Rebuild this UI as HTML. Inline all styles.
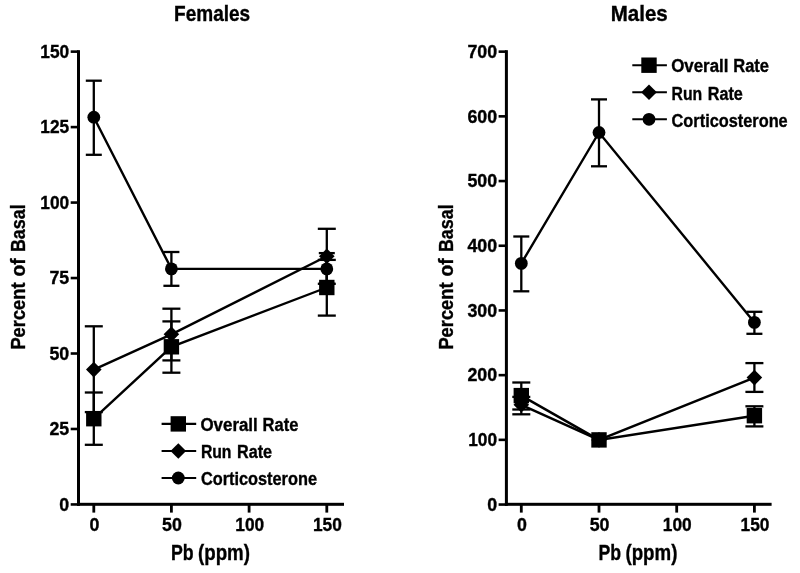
<!DOCTYPE html>
<html><head><meta charset="utf-8"><style>
html,body{margin:0;padding:0;background:#fff;}
body{width:800px;height:573px;overflow:hidden;}
svg{display:block;will-change:transform;}
text{font-family:"Liberation Sans",sans-serif;font-weight:bold;fill:#000;stroke:#000;stroke-width:0.35px;}
</style></head><body>
<svg width="800" height="573" viewBox="0 0 800 573">
<rect width="800" height="573" fill="#fff"/>
<g fill="#000" stroke="none">
<rect x="77.00" y="50.20" width="3.0" height="455.60"/><rect x="77.00" y="502.80" width="267.00" height="3.0"/><rect x="70.70" y="503.15" width="7.8" height="2.6"/><text x="69.20" y="510.70" text-anchor="end" font-size="18" textLength="9.90" lengthAdjust="spacingAndGlyphs">0</text><rect x="70.70" y="427.68" width="7.8" height="2.6"/><text x="69.20" y="435.23" text-anchor="end" font-size="18" textLength="19.80" lengthAdjust="spacingAndGlyphs">25</text><rect x="70.70" y="352.21" width="7.8" height="2.6"/><text x="69.20" y="359.76" text-anchor="end" font-size="18" textLength="19.80" lengthAdjust="spacingAndGlyphs">50</text><rect x="70.70" y="276.74" width="7.8" height="2.6"/><text x="69.20" y="284.29" text-anchor="end" font-size="18" textLength="19.80" lengthAdjust="spacingAndGlyphs">75</text><rect x="70.70" y="201.27" width="7.8" height="2.6"/><text x="69.20" y="208.82" text-anchor="end" font-size="18" textLength="28.86" lengthAdjust="spacingAndGlyphs">100</text><rect x="70.70" y="125.80" width="7.8" height="2.6"/><text x="69.20" y="133.35" text-anchor="end" font-size="18" textLength="28.86" lengthAdjust="spacingAndGlyphs">125</text><rect x="70.70" y="50.33" width="7.8" height="2.6"/><text x="69.20" y="57.88" text-anchor="end" font-size="18" textLength="28.86" lengthAdjust="spacingAndGlyphs">150</text><rect x="92.40" y="504.30" width="2.8" height="8.3"/><text x="94.40" y="531.0" text-anchor="middle" font-size="18" textLength="9.90" lengthAdjust="spacingAndGlyphs">0</text><rect x="170.00" y="504.30" width="2.8" height="8.3"/><text x="172.00" y="531.0" text-anchor="middle" font-size="18" textLength="19.80" lengthAdjust="spacingAndGlyphs">50</text><rect x="247.70" y="504.30" width="2.8" height="8.3"/><text x="249.70" y="531.0" text-anchor="middle" font-size="18" textLength="28.86" lengthAdjust="spacingAndGlyphs">100</text><rect x="325.40" y="504.30" width="2.8" height="8.3"/><text x="327.40" y="531.0" text-anchor="middle" font-size="18" textLength="28.86" lengthAdjust="spacingAndGlyphs">150</text><text x="171.06" y="560.20" font-size="21.2" textLength="22.61" lengthAdjust="spacingAndGlyphs">Pb</text><text x="198.01" y="560.20" font-size="21.2" textLength="51.97" lengthAdjust="spacingAndGlyphs">(ppm)</text><text transform="translate(25.20,349.57) rotate(-90)" x="0" y="0" font-size="20.3" textLength="67.05" lengthAdjust="spacingAndGlyphs">Percent</text><text transform="translate(25.20,276.40) rotate(-90)" x="0" y="0" font-size="20.3" textLength="18.11" lengthAdjust="spacingAndGlyphs">of</text><text transform="translate(25.20,252.05) rotate(-90)" x="0" y="0" font-size="20.3" textLength="47.65" lengthAdjust="spacingAndGlyphs">Basal</text><polyline stroke="#000" points="93.80,117.20 171.40,268.90 326.80,268.90" fill="none" stroke-width="2.4" stroke-linejoin="miter"/><polyline stroke="#000" points="93.80,369.60 171.40,334.30 326.80,256.30" fill="none" stroke-width="2.4" stroke-linejoin="miter"/><polyline stroke="#000" points="93.80,418.70 171.40,346.80 326.80,287.50" fill="none" stroke-width="2.4" stroke-linejoin="miter"/><line stroke="#000" x1="93.80" y1="80.70" x2="93.80" y2="154.80" stroke-width="2.3" stroke-linecap="butt"/><line stroke="#000" x1="85.80" y1="80.70" x2="101.80" y2="80.70" stroke-width="2.3" stroke-linecap="butt"/><line stroke="#000" x1="85.80" y1="154.80" x2="101.80" y2="154.80" stroke-width="2.3" stroke-linecap="butt"/><line stroke="#000" x1="171.40" y1="252.00" x2="171.40" y2="285.80" stroke-width="2.3" stroke-linecap="butt"/><line stroke="#000" x1="163.40" y1="252.00" x2="179.40" y2="252.00" stroke-width="2.3" stroke-linecap="butt"/><line stroke="#000" x1="163.40" y1="285.80" x2="179.40" y2="285.80" stroke-width="2.3" stroke-linecap="butt"/><line stroke="#000" x1="326.80" y1="253.10" x2="326.80" y2="283.80" stroke-width="2.3" stroke-linecap="butt"/><line stroke="#000" x1="318.80" y1="253.10" x2="334.80" y2="253.10" stroke-width="2.3" stroke-linecap="butt"/><line stroke="#000" x1="318.80" y1="283.80" x2="334.80" y2="283.80" stroke-width="2.3" stroke-linecap="butt"/><line stroke="#000" x1="93.80" y1="326.30" x2="93.80" y2="412.10" stroke-width="2.3" stroke-linecap="butt"/><line stroke="#000" x1="84.80" y1="326.30" x2="102.80" y2="326.30" stroke-width="2.3" stroke-linecap="butt"/><line stroke="#000" x1="84.80" y1="412.10" x2="102.80" y2="412.10" stroke-width="2.3" stroke-linecap="butt"/><line stroke="#000" x1="171.40" y1="308.70" x2="171.40" y2="360.40" stroke-width="2.3" stroke-linecap="butt"/><line stroke="#000" x1="162.40" y1="308.70" x2="180.40" y2="308.70" stroke-width="2.3" stroke-linecap="butt"/><line stroke="#000" x1="162.40" y1="360.40" x2="180.40" y2="360.40" stroke-width="2.3" stroke-linecap="butt"/><line stroke="#000" x1="326.80" y1="228.80" x2="326.80" y2="283.80" stroke-width="2.3" stroke-linecap="butt"/><line stroke="#000" x1="317.80" y1="228.80" x2="335.80" y2="228.80" stroke-width="2.3" stroke-linecap="butt"/><line stroke="#000" x1="317.80" y1="283.80" x2="335.80" y2="283.80" stroke-width="2.3" stroke-linecap="butt"/><line stroke="#000" x1="93.80" y1="392.50" x2="93.80" y2="444.80" stroke-width="2.3" stroke-linecap="butt"/><line stroke="#000" x1="84.80" y1="392.50" x2="102.80" y2="392.50" stroke-width="2.3" stroke-linecap="butt"/><line stroke="#000" x1="84.80" y1="444.80" x2="102.80" y2="444.80" stroke-width="2.3" stroke-linecap="butt"/><line stroke="#000" x1="171.40" y1="321.40" x2="171.40" y2="372.70" stroke-width="2.3" stroke-linecap="butt"/><line stroke="#000" x1="162.40" y1="321.40" x2="180.40" y2="321.40" stroke-width="2.3" stroke-linecap="butt"/><line stroke="#000" x1="162.40" y1="372.70" x2="180.40" y2="372.70" stroke-width="2.3" stroke-linecap="butt"/><line stroke="#000" x1="326.80" y1="259.90" x2="326.80" y2="315.60" stroke-width="2.3" stroke-linecap="butt"/><line stroke="#000" x1="317.80" y1="259.90" x2="335.80" y2="259.90" stroke-width="2.3" stroke-linecap="butt"/><line stroke="#000" x1="317.80" y1="315.60" x2="335.80" y2="315.60" stroke-width="2.3" stroke-linecap="butt"/><circle cx="93.80" cy="117.20" r="6.4"/><circle cx="171.40" cy="268.90" r="6.4"/><circle cx="326.80" cy="268.90" r="6.4"/><polygon points="93.80,361.80 101.60,369.60 93.80,377.40 86.00,369.60"/><polygon points="171.40,326.50 179.20,334.30 171.40,342.10 163.60,334.30"/><polygon points="326.80,248.50 334.60,256.30 326.80,264.10 319.00,256.30"/><rect x="86.10" y="411.00" width="15.4" height="15.4"/><rect x="163.70" y="339.10" width="15.4" height="15.4"/><rect x="319.10" y="279.80" width="15.4" height="15.4"/><g transform="translate(0,0)"><line stroke="#000" x1="161.60" y1="423.90" x2="196.20" y2="423.90" stroke-width="2.1" stroke-linecap="butt"/><rect x="170.60" y="416.20" width="15.4" height="15.4"/><line stroke="#000" x1="161.60" y1="451.00" x2="196.20" y2="451.00" stroke-width="2.1" stroke-linecap="butt"/><polygon points="178.30,443.20 186.10,451.00 178.30,458.80 170.50,451.00"/><line stroke="#000" x1="161.60" y1="478.00" x2="196.20" y2="478.00" stroke-width="2.1" stroke-linecap="butt"/><circle cx="178.30" cy="478.00" r="6.4"/><text x="200.46" y="430.50" font-size="17.5" textLength="57.29" lengthAdjust="spacingAndGlyphs">Overall</text><text x="262.54" y="430.50" font-size="17.5" textLength="35.78" lengthAdjust="spacingAndGlyphs">Rate</text><text x="200.89" y="458.30" font-size="17.5" textLength="30.63" lengthAdjust="spacingAndGlyphs">Run</text><text x="237.07" y="458.30" font-size="17.5" textLength="35.04" lengthAdjust="spacingAndGlyphs">Rate</text><text x="200.88" y="485.40" font-size="17.5" textLength="116.13" lengthAdjust="spacingAndGlyphs">Corticosterone</text></g><text x="174.08" y="21.00" font-size="21.5" textLength="76.11" lengthAdjust="spacingAndGlyphs">Females</text>
<rect x="504.90" y="50.20" width="3.0" height="455.60"/><rect x="504.90" y="502.80" width="266.70" height="3.0"/><rect x="498.60" y="503.25" width="7.8" height="2.6"/><text x="497.10" y="510.80" text-anchor="end" font-size="18" textLength="9.90" lengthAdjust="spacingAndGlyphs">0</text><rect x="498.60" y="438.55" width="7.8" height="2.6"/><text x="497.10" y="446.10" text-anchor="end" font-size="18" textLength="28.86" lengthAdjust="spacingAndGlyphs">100</text><rect x="498.60" y="373.85" width="7.8" height="2.6"/><text x="497.10" y="381.40" text-anchor="end" font-size="18" textLength="29.70" lengthAdjust="spacingAndGlyphs">200</text><rect x="498.60" y="309.15" width="7.8" height="2.6"/><text x="497.10" y="316.70" text-anchor="end" font-size="18" textLength="29.70" lengthAdjust="spacingAndGlyphs">300</text><rect x="498.60" y="244.45" width="7.8" height="2.6"/><text x="497.10" y="252.00" text-anchor="end" font-size="18" textLength="29.70" lengthAdjust="spacingAndGlyphs">400</text><rect x="498.60" y="179.75" width="7.8" height="2.6"/><text x="497.10" y="187.30" text-anchor="end" font-size="18" textLength="29.70" lengthAdjust="spacingAndGlyphs">500</text><rect x="498.60" y="115.05" width="7.8" height="2.6"/><text x="497.10" y="122.60" text-anchor="end" font-size="18" textLength="29.70" lengthAdjust="spacingAndGlyphs">600</text><rect x="498.60" y="50.35" width="7.8" height="2.6"/><text x="497.10" y="57.90" text-anchor="end" font-size="18" textLength="29.70" lengthAdjust="spacingAndGlyphs">700</text><rect x="519.90" y="504.30" width="2.8" height="8.3"/><text x="521.90" y="531.0" text-anchor="middle" font-size="18" textLength="9.90" lengthAdjust="spacingAndGlyphs">0</text><rect x="597.60" y="504.30" width="2.8" height="8.3"/><text x="599.60" y="531.0" text-anchor="middle" font-size="18" textLength="19.80" lengthAdjust="spacingAndGlyphs">50</text><rect x="675.30" y="504.30" width="2.8" height="8.3"/><text x="677.30" y="531.0" text-anchor="middle" font-size="18" textLength="28.86" lengthAdjust="spacingAndGlyphs">100</text><rect x="753.00" y="504.30" width="2.8" height="8.3"/><text x="755.00" y="531.0" text-anchor="middle" font-size="18" textLength="28.86" lengthAdjust="spacingAndGlyphs">150</text><text x="598.46" y="560.20" font-size="21.2" textLength="22.61" lengthAdjust="spacingAndGlyphs">Pb</text><text x="625.41" y="560.20" font-size="21.2" textLength="51.97" lengthAdjust="spacingAndGlyphs">(ppm)</text><text transform="translate(452.60,349.57) rotate(-90)" x="0" y="0" font-size="20.3" textLength="67.05" lengthAdjust="spacingAndGlyphs">Percent</text><text transform="translate(452.60,276.40) rotate(-90)" x="0" y="0" font-size="20.3" textLength="18.11" lengthAdjust="spacingAndGlyphs">of</text><text transform="translate(452.60,252.05) rotate(-90)" x="0" y="0" font-size="20.3" textLength="47.65" lengthAdjust="spacingAndGlyphs">Basal</text><polyline stroke="#000" points="521.30,263.40 599.00,132.50 754.40,322.40" fill="none" stroke-width="2.4" stroke-linejoin="miter"/><polyline stroke="#000" points="521.30,404.80 599.00,439.90 754.40,377.60" fill="none" stroke-width="2.4" stroke-linejoin="miter"/><polyline stroke="#000" points="521.30,395.60 599.00,439.90 754.40,415.70" fill="none" stroke-width="2.4" stroke-linejoin="miter"/><line stroke="#000" x1="521.30" y1="236.50" x2="521.30" y2="291.30" stroke-width="2.3" stroke-linecap="butt"/><line stroke="#000" x1="513.30" y1="236.50" x2="529.30" y2="236.50" stroke-width="2.3" stroke-linecap="butt"/><line stroke="#000" x1="513.30" y1="291.30" x2="529.30" y2="291.30" stroke-width="2.3" stroke-linecap="butt"/><line stroke="#000" x1="599.00" y1="99.40" x2="599.00" y2="166.30" stroke-width="2.3" stroke-linecap="butt"/><line stroke="#000" x1="591.00" y1="99.40" x2="607.00" y2="99.40" stroke-width="2.3" stroke-linecap="butt"/><line stroke="#000" x1="591.00" y1="166.30" x2="607.00" y2="166.30" stroke-width="2.3" stroke-linecap="butt"/><line stroke="#000" x1="754.40" y1="311.80" x2="754.40" y2="333.80" stroke-width="2.3" stroke-linecap="butt"/><line stroke="#000" x1="746.40" y1="311.80" x2="762.40" y2="311.80" stroke-width="2.3" stroke-linecap="butt"/><line stroke="#000" x1="746.40" y1="333.80" x2="762.40" y2="333.80" stroke-width="2.3" stroke-linecap="butt"/><line stroke="#000" x1="521.30" y1="396.90" x2="521.30" y2="414.30" stroke-width="2.3" stroke-linecap="butt"/><line stroke="#000" x1="512.30" y1="396.90" x2="530.30" y2="396.90" stroke-width="2.3" stroke-linecap="butt"/><line stroke="#000" x1="512.30" y1="414.30" x2="530.30" y2="414.30" stroke-width="2.3" stroke-linecap="butt"/><line stroke="#000" x1="754.40" y1="363.10" x2="754.40" y2="391.90" stroke-width="2.3" stroke-linecap="butt"/><line stroke="#000" x1="745.40" y1="363.10" x2="763.40" y2="363.10" stroke-width="2.3" stroke-linecap="butt"/><line stroke="#000" x1="745.40" y1="391.90" x2="763.40" y2="391.90" stroke-width="2.3" stroke-linecap="butt"/><line stroke="#000" x1="521.30" y1="382.50" x2="521.30" y2="409.50" stroke-width="2.3" stroke-linecap="butt"/><line stroke="#000" x1="512.30" y1="382.50" x2="530.30" y2="382.50" stroke-width="2.3" stroke-linecap="butt"/><line stroke="#000" x1="512.30" y1="409.50" x2="530.30" y2="409.50" stroke-width="2.3" stroke-linecap="butt"/><line stroke="#000" x1="754.40" y1="406.30" x2="754.40" y2="426.40" stroke-width="2.3" stroke-linecap="butt"/><line stroke="#000" x1="745.40" y1="406.30" x2="763.40" y2="406.30" stroke-width="2.3" stroke-linecap="butt"/><line stroke="#000" x1="745.40" y1="426.40" x2="763.40" y2="426.40" stroke-width="2.3" stroke-linecap="butt"/><circle cx="521.30" cy="263.40" r="6.4"/><circle cx="599.00" cy="132.50" r="6.4"/><circle cx="754.40" cy="322.40" r="6.4"/><polygon points="521.30,397.00 529.10,404.80 521.30,412.60 513.50,404.80"/><polygon points="599.00,432.10 606.80,439.90 599.00,447.70 591.20,439.90"/><polygon points="754.40,369.80 762.20,377.60 754.40,385.40 746.60,377.60"/><rect x="513.60" y="387.90" width="15.4" height="15.4"/><rect x="591.30" y="432.20" width="15.4" height="15.4"/><rect x="746.70" y="408.00" width="15.4" height="15.4"/><g transform="translate(470.7,-358.7)"><line stroke="#000" x1="161.60" y1="423.90" x2="196.20" y2="423.90" stroke-width="2.1" stroke-linecap="butt"/><rect x="170.60" y="416.20" width="15.4" height="15.4"/><line stroke="#000" x1="161.60" y1="451.00" x2="196.20" y2="451.00" stroke-width="2.1" stroke-linecap="butt"/><polygon points="178.30,443.20 186.10,451.00 178.30,458.80 170.50,451.00"/><line stroke="#000" x1="161.60" y1="478.00" x2="196.20" y2="478.00" stroke-width="2.1" stroke-linecap="butt"/><circle cx="178.30" cy="478.00" r="6.4"/><text x="200.46" y="430.50" font-size="17.5" textLength="57.29" lengthAdjust="spacingAndGlyphs">Overall</text><text x="262.54" y="430.50" font-size="17.5" textLength="35.78" lengthAdjust="spacingAndGlyphs">Rate</text><text x="200.89" y="458.30" font-size="17.5" textLength="30.63" lengthAdjust="spacingAndGlyphs">Run</text><text x="237.07" y="458.30" font-size="17.5" textLength="35.04" lengthAdjust="spacingAndGlyphs">Rate</text><text x="200.88" y="485.40" font-size="17.5" textLength="116.13" lengthAdjust="spacingAndGlyphs">Corticosterone</text></g><text x="610.78" y="21.00" font-size="21.5" textLength="57.02" lengthAdjust="spacingAndGlyphs">Males</text>
</g>
</svg>
</body></html>
